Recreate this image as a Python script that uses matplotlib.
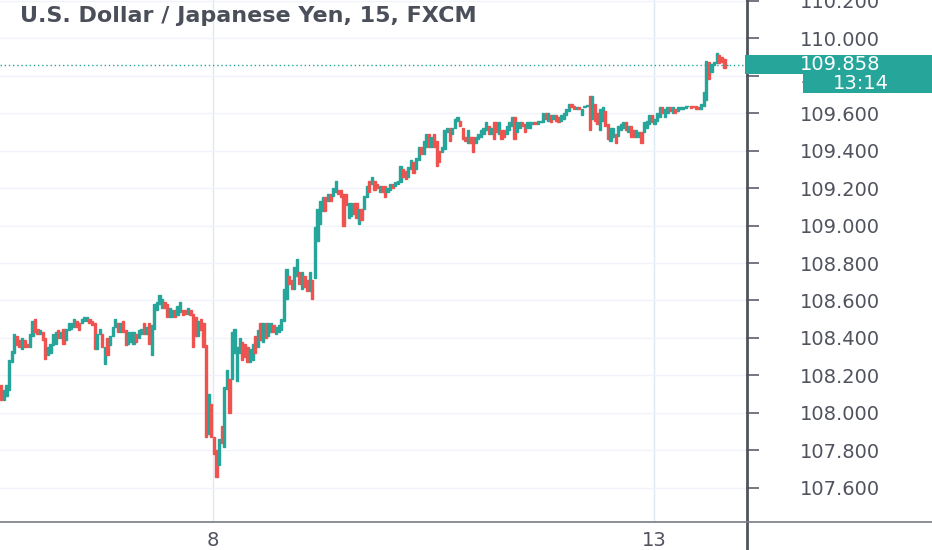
import numpy as np
import matplotlib
matplotlib.use('Agg')
import matplotlib.pyplot as plt
from matplotlib.patches import Rectangle
from matplotlib.lines import Line2D

# 15 minute candles (bodies only)
opens = [
    108.15, 108.07, 108.09, 108.12, 108.27, 108.32, 108.41, 108.39, 108.34, 108.39,
    108.37, 108.35, 108.41, 108.50, 108.45, 108.42, 108.43, 108.40, 108.31, 108.32,
    108.36, 108.37, 108.44, 108.40, 108.45, 108.39, 108.44, 108.45, 108.46, 108.49,
    108.48, 108.48, 108.49, 108.49, 108.50, 108.49, 108.48, 108.34, 108.42, 108.42,
    108.26, 108.40, 108.36, 108.41, 108.46, 108.48, 108.43, 108.49, 108.44, 108.37,
    108.38, 108.37, 108.42, 108.40, 108.42, 108.48, 108.42, 108.48, 108.31, 108.45,
    108.55, 108.58, 108.56, 108.59, 108.58, 108.51, 108.51, 108.55, 108.52, 108.54,
    108.55, 108.55, 108.53, 108.55, 108.53, 108.51, 108.41, 108.50, 108.48, 108.36,
    107.89, 108.05, 107.87, 107.80, 107.72, 107.93, 107.82, 108.13, 108.18, 108.18,
    108.32, 108.17, 108.32, 108.38, 108.37, 108.35, 108.27, 108.28, 108.41, 108.35,
    108.48, 108.38, 108.48, 108.41, 108.43, 108.47, 108.42, 108.43, 108.44, 108.49,
    108.61, 108.73, 108.71, 108.66, 108.73, 108.75, 108.66, 108.73, 108.71, 108.65,
    108.71, 108.72, 108.92, 109.01, 109.08, 109.15, 109.13, 109.17, 109.16, 109.18,
    109.19, 109.19, 109.17, 109.17, 109.04, 109.05, 109.12, 109.12, 109.01, 109.09,
    109.09, 109.15, 109.24, 109.22, 109.24, 109.22, 109.18, 109.21, 109.21, 109.18,
    109.19, 109.22, 109.21, 109.22, 109.23, 109.30, 109.29, 109.26, 109.30, 109.34,
    109.30, 109.35, 109.42, 109.38, 109.42, 109.49, 109.42, 109.49, 109.45, 109.40,
    109.39, 109.41, 109.50, 109.52, 109.49, 109.52, 109.56, 109.56, 109.52, 109.47,
    109.44, 109.47, 109.47, 109.44, 109.46, 109.47, 109.49, 109.51, 109.53, 109.49,
    109.55, 109.55, 109.49, 109.51, 109.51, 109.49, 109.51, 109.53, 109.58, 109.50,
    109.52, 109.55, 109.54, 109.52, 109.52, 109.54, 109.55, 109.54, 109.55, 109.55,
    109.60, 109.56, 109.59, 109.57, 109.59, 109.58, 109.56, 109.57, 109.59, 109.61,
    109.65, 109.64, 109.62, 109.63, 109.59, 109.63, 109.635, 109.69, 109.57, 109.65,
    109.60, 109.51, 109.56, 109.61, 109.54, 109.45, 109.47, 109.49, 109.48, 109.51,
    109.52, 109.55, 109.50, 109.53, 109.51, 109.47, 109.47, 109.50, 109.50, 109.52,
    109.54, 109.59, 109.54, 109.56, 109.58, 109.63, 109.58, 109.60, 109.63, 109.60,
    109.62, 109.61, 109.62, 109.62, 109.625, 109.635, 109.64, 109.64, 109.64, 109.63,
    109.62, 109.64, 109.67, 109.87, 109.82, 109.856, 109.865, 109.91, 109.90, 109.89,
    109.856,
]
closes = [
    108.07, 108.12, 108.15, 108.28, 108.33, 108.42, 108.36, 108.35, 108.40, 108.35,
    108.35, 108.42, 108.49, 108.43, 108.42, 108.44, 108.39, 108.29, 108.35, 108.37,
    108.42, 108.43, 108.40, 108.43, 108.37, 108.45, 108.48, 108.48, 108.50, 108.46,
    108.44, 108.50, 108.51, 108.51, 108.48, 108.47, 108.34, 108.42, 108.45, 108.35,
    108.35, 108.31, 108.41, 108.46, 108.50, 108.43, 108.48, 108.43, 108.36, 108.43,
    108.43, 108.43, 108.38, 108.44, 108.45, 108.42, 108.46, 108.37, 108.47, 108.58,
    108.59, 108.63, 108.61, 108.56, 108.51, 108.56, 108.55, 108.51, 108.57, 108.59,
    108.52, 108.53, 108.56, 108.52, 108.35, 108.41, 108.49, 108.44, 108.35, 107.87,
    108.10, 107.87, 107.78, 107.66, 107.86, 107.84, 108.14, 108.23, 108.00, 108.43,
    108.45, 108.35, 108.40, 108.28, 108.30, 108.27, 108.34, 108.37, 108.32, 108.44,
    108.39, 108.48, 108.40, 108.48, 108.48, 108.43, 108.46, 108.47, 108.50, 108.66,
    108.77, 108.69, 108.66, 108.78, 108.82, 108.69, 108.75, 108.67, 108.65, 108.75,
    108.61, 108.99, 109.09, 109.13, 109.15, 109.08, 109.17, 109.13, 109.20, 109.24,
    109.17, 109.15, 109.00, 109.11, 109.12, 109.12, 109.06, 109.04, 109.09, 109.03,
    109.16, 109.21, 109.18, 109.26, 109.19, 109.20, 109.21, 109.18, 109.15, 109.20,
    109.22, 109.20, 109.23, 109.24, 109.32, 109.26, 109.25, 109.31, 109.35, 109.28,
    109.36, 109.42, 109.38, 109.45, 109.49, 109.42, 109.47, 109.42, 109.32, 109.34,
    109.42, 109.51, 109.52, 109.45, 109.52, 109.57, 109.58, 109.53, 109.46, 109.45,
    109.51, 109.44, 109.39, 109.47, 109.49, 109.51, 109.52, 109.55, 109.49, 109.52,
    109.46, 109.50, 109.55, 109.46, 109.47, 109.53, 109.55, 109.58, 109.46, 109.55,
    109.55, 109.53, 109.50, 109.55, 109.55, 109.55, 109.54, 109.56, 109.56, 109.60,
    109.57, 109.60, 109.55, 109.59, 109.56, 109.55, 109.59, 109.60, 109.62, 109.65,
    109.63, 109.62, 109.63, 109.62, 109.62, 109.64, 109.645, 109.51, 109.69, 109.56,
    109.54, 109.62, 109.63, 109.53, 109.46, 109.52, 109.52, 109.44, 109.53, 109.54,
    109.55, 109.51, 109.53, 109.47, 109.47, 109.51, 109.50, 109.44, 109.55, 109.56,
    109.59, 109.55, 109.57, 109.60, 109.63, 109.60, 109.62, 109.63, 109.61, 109.63,
    109.60, 109.63, 109.63, 109.63, 109.64, 109.64, 109.625, 109.63, 109.62, 109.62,
    109.65, 109.71, 109.88, 109.78, 109.86, 109.87, 109.92, 109.865, 109.87, 109.84,
    109.858,
]
price_ticks = [107.6, 107.8, 108.0, 108.2, 108.4, 108.6, 108.8,
               109.0, 109.2, 109.4, 109.6, 109.8, 110.0, 110.2]
day_labels = ['8', '13']
day_pos = [81.5, 252]        # candle index where the day starts
last_price = 109.858
countdown = '13:14'
title = 'U.S. Dollar / Japanese Yen, 15, FXCM'

UP = '#26a69a'
DOWN = '#ef5350'
TXT = '#50535e'

W, H = 932, 550
fig = plt.figure(figsize=(W / 100, H / 100), dpi=100)
ax_right, ax_bottom = 746, 521.7
ax = fig.add_axes([0, 1 - ax_bottom / H, ax_right / W, ax_bottom / H])

o = np.array(opens)
c = np.array(closes)
idx = np.arange(len(o))
cols = np.where(c >= o, UP, DOWN)
ax.bar(idx, np.abs(c - o), bottom=np.minimum(o, c), width=0.85,
       color=cols, edgecolor=cols, linewidth=1.0, zorder=3)

ax.axhline(last_price, color=UP, lw=1, ls=(0, (1, 2)), zorder=2)

ax.set_xlim(-0.5, 287.3)
ax.set_ylim(107.42, 110.203)

ax.yaxis.tick_right()
ax.set_yticks(price_ticks)
ax.set_yticklabels([f'{t:.3f}' for t in price_ticks])
ax.tick_params(axis='y', length=9, width=1.2, color='#5d606b',
               pad=58.7, labelsize=14, labelcolor=TXT)
for lab in ax.get_yticklabels():
    lab.set_horizontalalignment('center')

ax.set_xticks(day_pos)
ax.set_xticklabels(day_labels)
ax.tick_params(axis='x', length=0, pad=7, labelsize=14, labelcolor=TXT)

ax.grid(axis='y', color='#f0f3fa', lw=1)
ax.grid(axis='x', color='#dce8f2', lw=1)
ax.set_axisbelow(True)
for s in ax.spines.values():
    s.set_visible(False)

# price scale border and time scale border run across the whole figure
fig.add_artist(Line2D([(ax_right + 0.5) / W] * 2, [0, 1], transform=fig.transFigure,
                      color='#50535e', lw=2))
fig.add_artist(Line2D([0, 1], [1 - ax_bottom / H] * 2, transform=fig.transFigure,
                      color='#787b86', lw=1.2))

# last price and countdown badges
fig.add_artist(Rectangle((745 / W, 1 - 73.5 / H), (W - 745) / W, 18.5 / H,
                         transform=fig.transFigure, facecolor=UP, edgecolor='none', zorder=5))
fig.text(840 / W, 1 - 64.5 / H, f'{last_price:.3f}', color='white', fontsize=14,
         ha='center', va='center', zorder=6)
fig.add_artist(Rectangle((803 / W, 1 - 93 / H), (W - 803) / W, 19 / H,
                         transform=fig.transFigure, facecolor=UP, edgecolor='none', zorder=5))
fig.text(861 / W, 1 - 83.5 / H, countdown, color='white', fontsize=14,
         ha='center', va='center', zorder=6)

fig.text(20 / W, 1 - 16 / H, title, fontsize=16, fontweight='bold', color='#4a4f5a',
         ha='left', va='center')

fig.savefig('out.png', dpi=100)
